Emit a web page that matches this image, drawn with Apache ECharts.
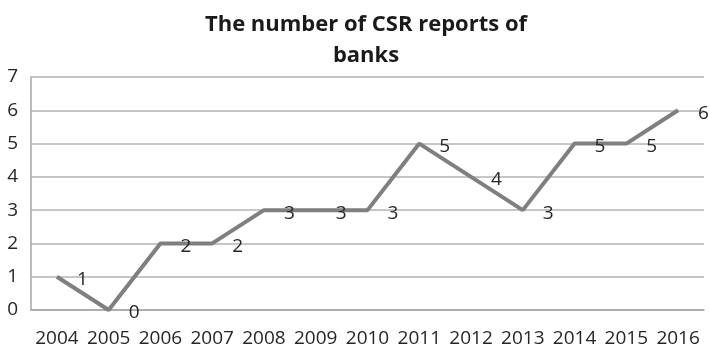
<!DOCTYPE html>
<html><head><meta charset="utf-8">
<script src="https://cdn.jsdelivr.net/npm/echarts@6/dist/echarts.min.js"></script>
<style>html,body{margin:0;padding:0;background:#fff}#c{width:709px;height:352px}</style>
</head><body><div id="c"></div>
<script>
var categories = ['2004','2005','2006','2007','2008','2009','2010','2011','2012','2013','2014','2015','2016'];
var values = [1,0,2,2,3,3,3,5,4,3,5,5,6];
var titleText = 'The number of CSR reports of\nbanks';
var chart = echarts.init(document.getElementById('c'));
chart.setOption({
  animation: false,
  backgroundColor: '#fff',
  title: {
    text: titleText, left: 361, top: 4, textAlign: 'center',
    textStyle: {fontFamily: 'Open Sans', fontWeight: 'bold', fontSize: 22, color: '#1a1a1a', lineHeight: 31}
  },
  grid: {left: 31, right: 5, top: 77, bottom: 42, containLabel: false},
  xAxis: {
    type: 'category', data: categories, boundaryGap: true,
    axisLine: {lineStyle: {color: '#a6a6a6', width: 1.5}},
    axisTick: {show: false},
    axisLabel: {interval: 0, fontFamily: 'Open Sans', fontSize: 19, color: '#262626', margin: 19}
  },
  yAxis: {
    type: 'value', min: 0, max: 7, interval: 1,
    axisLine: {show: true, lineStyle: {color: '#a6a6a6', width: 1.5}},
    axisTick: {show: false},
    splitLine: {lineStyle: {color: '#b3b3b3', width: 1.5}},
    axisLabel: {fontFamily: 'Open Sans', fontSize: 19, color: '#262626', margin: 13}
  },
  series: [{
    type: 'line', data: values, symbol: 'circle', symbolSize: 0.01, showSymbol: true,
    itemStyle: {color: '#7f7f7f'},
    lineStyle: {color: '#7f7f7f', width: 4},
    label: {show: true, position: 'right', distance: 20, offset: [0, 3],
      fontFamily: 'Open Sans', fontSize: 19, color: '#262626'}
  }]
});
</script></body></html>
